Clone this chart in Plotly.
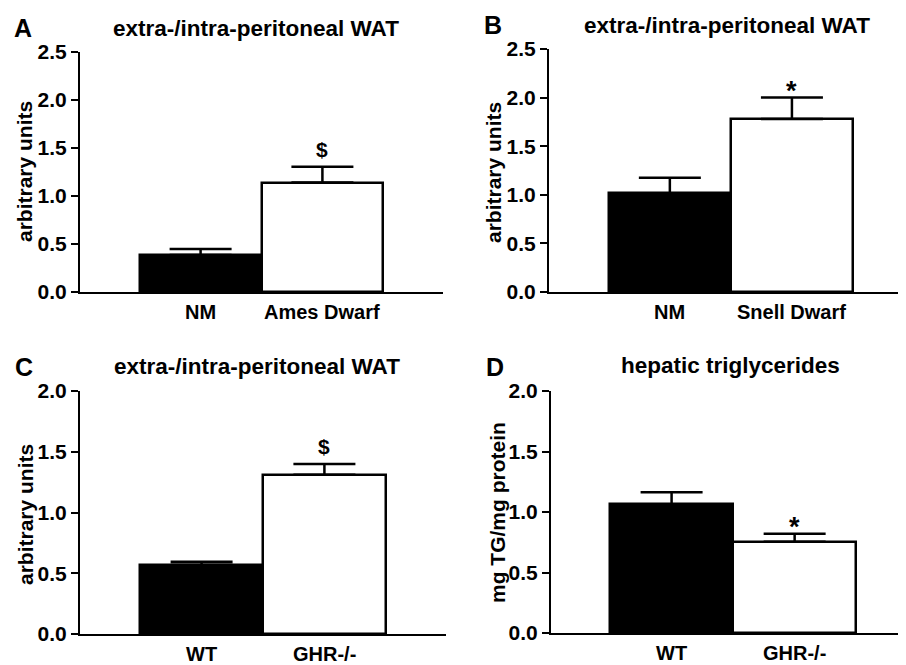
import plotly.graph_objects as go

W, H = 906, 665
OFF = 8  # page body margin offset

# ---- data ----
catA = ["NM", "Ames Dwarf"]
valA = [0.385, 1.14]
errA = [0.448, 1.305]

catB = ["NM", "Snell Dwarf"]
valB = [1.015, 1.78]
errB = [1.175, 2.0]

catC = ["WT", "GHR-/-"]
valC = [0.57, 1.31]
errC = [0.595, 1.40]

catD = ["WT", "GHR-/-"]
valD = [1.065, 0.755]
errD = [1.163, 0.82]

sigA = ["", "$"]
sigB = ["", "*"]
sigC = ["", "$"]
sigD = ["", "*"]

titles = ["extra-/intra-peritoneal WAT", "extra-/intra-peritoneal WAT",
          "extra-/intra-peritoneal WAT", "hepatic triglycerides"]
letters = ["A", "B", "C", "D"]
ylabels = ["arbitrary units", "arbitrary units", "arbitrary units", "mg TG/mg protein"]
yranges = [2.5, 2.5, 2.0, 2.0]

FONT = "Liberation Sans, Arial, sans-serif"


def px(x):
    return (x - OFF) / W


def py(y):
    return 1 - (y - OFF) / H


# pixel geometry (screen px): (x0, x1, y_bottom, y_top, xrange)
geom = [
    (80, 443, 292, 52, [-0.99, 1.99]),
    (549, 914, 292, 49, [-0.99, 2.0]),
    (80, 446, 634, 391, [-0.99, 1.99]),
    (551, 914, 633, 391, [-0.98, 1.97]),
]
title_pos = [(256, 28), (727, 25), (257, 366), (730, 365)]
letter_pos = [(23, 28), (493, 25), (24, 367), (495, 367)]
ylab_pos = [(25, 172), (494, 172), (25, 515), (497, 513)]

cats = [catA, catB, catC, catD]
vals = [valA, valB, valC, valD]
errs = [errA, errB, errC, errD]
sigs = [sigA, sigB, sigC, sigD]

fig = go.Figure()
layout = dict(width=W, height=H, margin=dict(l=0, r=0, t=0, b=0, pad=0),
              template="none",
              paper_bgcolor="white", plot_bgcolor="white", showlegend=False,
              bargap=0, annotations=[])

for i in range(4):
    sfx = "" if i == 0 else str(i + 1)
    xa, ya = "x" + sfx, "y" + sfx
    x0, x1, yb, yt, xr = geom[i]
    c, v, e = cats[i], vals[i], errs[i]
    fig.add_trace(go.Bar(
        x=c, y=v, xaxis=xa, yaxis=ya, width=1,
        marker=dict(color=["black", "white"], line=dict(color="black", width=2.5)),
        error_y=dict(type="data", symmetric=False,
                     array=[e[k] - v[k] for k in range(2)],
                     arrayminus=[0, 0], color="black", thickness=2.5, width=31),
    ))
    layout["xaxis" + sfx] = dict(
        domain=[px(x0), min(1.0, px(x1))], anchor=ya, type="category",
        categoryorder="array", categoryarray=c, range=xr, automargin=False,
        showline=True, linecolor="black", linewidth=2, ticks="",
        showgrid=False, zeroline=False, fixedrange=True, showticklabels=False,
    )
    layout["yaxis" + sfx] = dict(
        domain=[py(yb), py(yt)], anchor=xa, automargin=False,
        range=[0, yranges[i]], dtick=0.5, tickformat=".1f",
        showline=True, linecolor="black", linewidth=2,
        ticks="outside", ticklen=7, tickwidth=2, tickcolor="black",
        showgrid=False, zeroline=False, fixedrange=True,
        tickfont=dict(family=FONT, size=21, color="black", weight="bold"),
    )
    for k in range(2):
        layout["annotations"].append(dict(
            x=c[k], y=0, xref=xa, yref=ya, text=c[k],
            showarrow=False, yanchor="top", yshift=-7,
            font=dict(family=FONT, size=20, color="black", weight="bold")))
        if sigs[i][k]:
            star = sigs[i][k] == "*"
            layout["annotations"].append(dict(
                x=c[k], y=e[k], xref=xa, yref=ya, text=sigs[i][k],
                showarrow=False, yanchor="bottom",
                yshift=(-10 if star else 4),
                font=dict(family=FONT, size=(27 if star else 21),
                          color="black", weight="bold")))
    tx, ty = title_pos[i]
    layout["annotations"].append(dict(
        x=px(tx), y=py(ty), xref="paper", yref="paper", text=titles[i],
        showarrow=False, xanchor="center", yanchor="middle",
        font=dict(family=FONT, size=22.5, color="black", weight="bold")))
    lx, ly = letter_pos[i]
    layout["annotations"].append(dict(
        x=px(lx), y=py(ly), xref="paper", yref="paper", text=letters[i],
        showarrow=False, xanchor="center", yanchor="middle",
        font=dict(family=FONT, size=25, color="black", weight="bold")))
    lpx, lpy = ylab_pos[i]
    layout["annotations"].append(dict(
        x=px(lpx), y=py(lpy), xref="paper", yref="paper", text=ylabels[i],
        showarrow=False, xanchor="center", yanchor="middle", textangle=-90,
        font=dict(family=FONT, size=21, color="black", weight="bold")))

fig.update_layout(**layout)
fig.write_html("out.html")
